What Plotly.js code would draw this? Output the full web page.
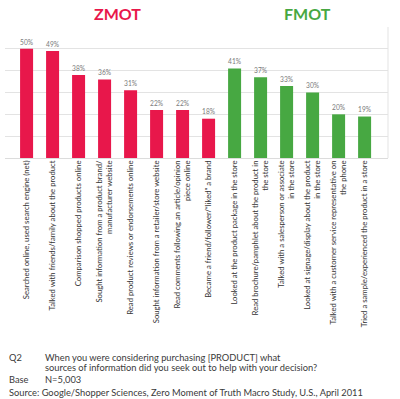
<!DOCTYPE html>
<html>
<head>
<meta charset="utf-8">
<script src="https://cdn.plot.ly/plotly-3.0.1.min.js"></script>
<style>html,body{margin:0;padding:0;background:#fff;}#chart{width:400px;height:399px;}</style>
</head>
<body>
<div id="chart"></div>
<script>
// ZMOT group
const zmotCategories = ["z1","z2","z3","z4","z5","z6","z7","z8"];
const zmotLabels = [
  "Searched online, used search engine (net)",
  "Talked with friends/family about the product",
  "Comparison shopped products online",
  "Sought information from a product brand/<br>manufacturer website",
  "Read product reviews or endorsements online",
  "Sought information from a retailer/store website",
  "Read comments following an article/opinion<br>piece online",
  "Became a friend/follower/\u201cliked\u201d a brand"
];
const zmotValues = [50, 49, 38, 36, 31, 22, 22, 18];

// FMOT group
const fmotCategories = ["f1","f2","f3","f4","f5","f6"];
const fmotLabels = [
  "Looked at the product package in the store",
  "Read brochure/pamphlet about the product in<br>the store",
  "Talked with a salesperson or associate<br>in the store",
  "Looked at signage/display about the product<br>in the store",
  "Talked with a customer service representative on<br>the phone",
  "Tried a sample/experienced the product in a store"
];
const fmotValues = [41, 37, 33, 30, 20, 19];

const red = "#E8174B", green = "#47A842";
const pct = v => v.map(x => x + "%");

const traces = [
  {type:"bar", x:zmotCategories, y:zmotValues, width:0.5, marker:{color:red},
   text:pct(zmotValues), textposition:"outside", cliponaxis:false,
   textfont:{family:"Lato, sans-serif", size:10, color:"#7a7a7a"}, hoverinfo:"none"},
  {type:"bar", x:fmotCategories, y:fmotValues, width:0.5, marker:{color:green},
   text:pct(fmotValues), textposition:"outside", cliponaxis:false,
   textfont:{family:"Lato, sans-serif", size:10, color:"#7a7a7a"}, hoverinfo:"none"}
];

const L = 5, R = 388, T = 27, B = 158;
const px = x => (x - L) / (R - L);
const py = y => (B - y) / (B - T);
const noteFont = {family:"Lato, sans-serif", size:9.3, color:"#3a3a3a"};

const layout = {
  width:400, height:399,
  margin:{l:L, r:400-R, t:T, b:399-B, pad:0},
  paper_bgcolor:"#fff", plot_bgcolor:"#fff",
  showlegend:false, barmode:"overlay",
  xaxis:{type:"category", range:[-0.83, 13.9],
    tickmode:"array", tickvals:zmotCategories.concat(fmotCategories),
    ticktext:zmotLabels.concat(fmotLabels), tickangle:-90,
    ticks:"", showgrid:false, zeroline:false, showline:false,
    tickfont:{family:"Lato, sans-serif", size:7.7, color:"#333"}},
  yaxis:{range:[0,60], dtick:10, showticklabels:false, showgrid:true,
    gridcolor:"#e3e3e3", gridwidth:1, zeroline:true, zerolinecolor:"#dcdcdc", showline:false, fixedrange:true},
  shapes:[{type:"line", xref:"paper", yref:"paper", x0:1, x1:1, y0:0, y1:1, line:{color:"#e3e3e3", width:1}}],
  annotations:[
    {text:"<b>ZMOT</b>", xref:"paper", yref:"paper", x:px(117), y:py(13), showarrow:false,
     font:{family:"Lato, sans-serif", size:16, color:red}, xanchor:"center", yanchor:"middle"},
    {text:"<b>FMOT</b>", xref:"paper", yref:"paper", x:px(307), y:py(13), showarrow:false,
     font:{family:"Lato, sans-serif", size:16, color:green}, xanchor:"center", yanchor:"middle"},
    {text:"Q2", xref:"paper", yref:"paper", x:px(7), y:py(357), showarrow:false, font:noteFont, xanchor:"left", yanchor:"middle"},
    {text:"When you were considering purchasing [PRODUCT] what", xref:"paper", yref:"paper", x:px(43), y:py(357), showarrow:false, font:noteFont, xanchor:"left", yanchor:"middle"},
    {text:"sources of information did you seek out to help with your decision?", xref:"paper", yref:"paper", x:px(43), y:py(367), showarrow:false, font:noteFont, xanchor:"left", yanchor:"middle"},
    {text:"Base", xref:"paper", yref:"paper", x:px(7), y:py(379), showarrow:false, font:noteFont, xanchor:"left", yanchor:"middle"},
    {text:"N=5,003", xref:"paper", yref:"paper", x:px(43), y:py(379), showarrow:false, font:noteFont, xanchor:"left", yanchor:"middle"},
    {text:"Source: Google/Shopper Sciences, Zero Moment of Truth Macro Study, U.S., April 2011", xref:"paper", yref:"paper", x:px(7), y:py(392.5), showarrow:false, font:noteFont, xanchor:"left", yanchor:"middle"}
  ]
};

Plotly.newPlot("chart", traces, layout, {displayModeBar:false, staticPlot:true});
</script>
</body>
</html>
